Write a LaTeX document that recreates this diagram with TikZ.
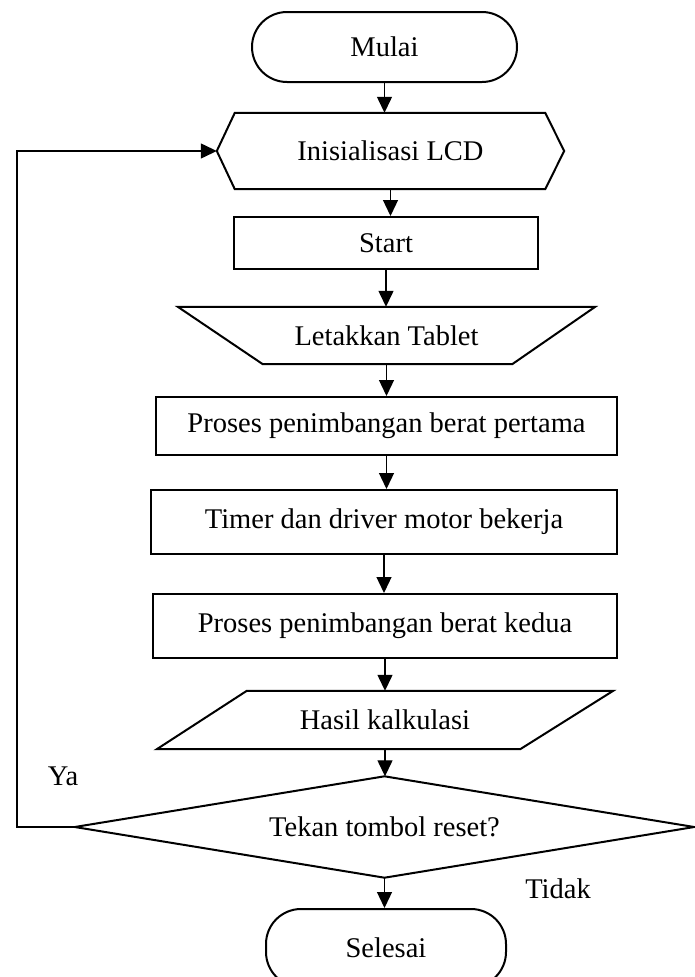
\documentclass[tikz,border=0pt]{standalone}
\usepackage{fontspec}
\setmainfont{Liberation Serif}
\usetikzlibrary{arrows.meta}

\tikzset{
  box/.style={draw, line width=2pt, minimum width=#1, inner sep=0pt},
  terminal/.style={box=#1, rounded corners=35pt, minimum height=70pt},
  plain/.style={draw=none, inner sep=0pt, minimum width=#1},
  outline/.style={line width=2pt, line join=miter},
  arr/.style={line width=1.3pt, -{Triangle[length=16pt,width=15pt]}},
}

\begin{document}
\begin{tikzpicture}[x=1pt, y=-1pt, font=\fontsize{28.5}{34}\selectfont]
  \useasboundingbox (0,0) rectangle (695,977);

  % Draw the flow steps
  \node[terminal=265pt] (mulai) at (384.5,47) {Mulai};
  \node[plain=347pt, minimum height=76pt] (lcd) at (390.5,151) {Inisialisasi LCD};
  \node[box=304pt, minimum height=52pt] (start) at (386,243) {Start};
  \node[plain=417pt, minimum height=57pt] (tablet) at (386.5,335.5) {Letakkan Tablet};
  \node[box=461pt, minimum height=58pt] (proses1) at (386.5,426) {Proses penimbangan berat pertama};
  \node[box=466pt, minimum height=64pt] (timer) at (384,522) {Timer dan driver motor bekerja};
  \node[box=464pt, minimum height=64pt] (proses2) at (385,626) {Proses penimbangan berat kedua};
  \node[plain=456pt, minimum height=58pt] (hasil) at (385,720) {Hasil kalkulasi};
  \node[plain=619pt, minimum height=101pt] (reset) at (384.5,827) {Tekan tombol reset?};
  \node[terminal=240pt, minimum height=78pt] (selesai) at (386,948) {Selesai};

  % Outlines of the non-rectangular shapes
  \draw[outline] (lcd.west) -- ([xshift=18pt]lcd.north west) -- ([xshift=-19pt]lcd.north east)
    -- (lcd.east) -- ([xshift=-19pt]lcd.south east) -- ([xshift=18pt]lcd.south west) -- cycle;
  \draw[outline] (tablet.north west) -- (tablet.north east) -- ([xshift=-83pt]tablet.south east)
    -- ([xshift=85pt]tablet.south west) -- cycle;
  \draw[outline] ([xshift=90pt]hasil.north west) -- (hasil.north east)
    -- ([xshift=-93pt]hasil.south east) -- (hasil.south west) -- cycle;
  \draw[outline] (reset.north) -- (reset.east) -- (reset.south) -- (reset.west) -- cycle;

  % Arrows down the chart
  \foreach \a/\b in {mulai/lcd, lcd/start, start/tablet, tablet/proses1, proses1/timer,
                     timer/proses2, proses2/hasil, hasil/reset, reset/selesai}
    \draw[arr] (\a.south) -- (\a.south |- \b.north);

  % Loop back when reset is pressed
  \coordinate (back) at (17,827);
  \draw[arr] (reset.west) -- (back) |- (lcd.west);

  \node (ya) at (63,776) {Ya};
  \node (tidak) at (558,889) {Tidak};
\end{tikzpicture}
\end{document}
